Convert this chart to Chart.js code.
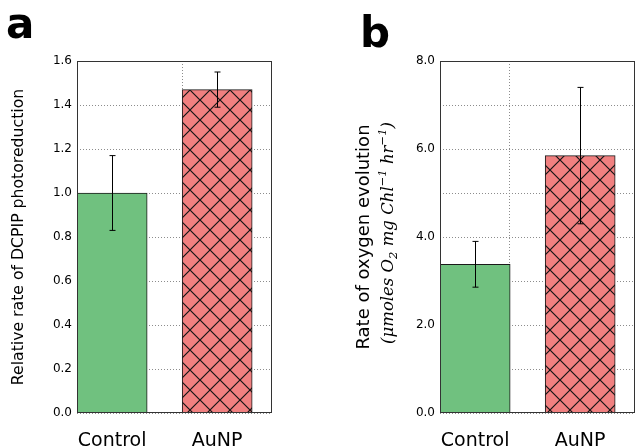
<!DOCTYPE html>
<html>
<head>
<meta charset="utf-8">
<script src="https://cdn.jsdelivr.net/npm/chart.js@4.4.0/dist/chart.umd.min.js"></script>
<style>
  html, body { margin: 0; padding: 0; background: #fff; }
  #wrap { position: relative; width: 635px; height: 447px; overflow: hidden; }
  #boxA { position: absolute; left: 0; top: 0; width: 320px; height: 447px; }
  #boxB { position: absolute; left: 320px; top: 0; width: 315px; height: 447px; }
</style>
</head>
<body>
<div id="wrap">
  <div id="boxA"><canvas id="chartA" width="320" height="447"></canvas></div>
  <div id="boxB"><canvas id="chartB" width="315" height="447"></canvas></div>
</div>
<script>
// data
const categories = ['Control', 'AuNP'];
const dcpipValues = [1.0, 1.47];
const dcpipErrors = [0.17, 0.08];
const oxygenValues = [3.38, 5.85];
const oxygenErrors = [0.52, 1.55];

const GREEN = '#70c17f';
const RED = '#f08080';
const EDGE = '#1a1a1a';
const GRID = '#8c8c8c';

// crosshatch fill for the AuNP bar
function crossHatch() {
  const c = document.createElement('canvas');
  c.width = 20; c.height = 20;
  const g = c.getContext('2d');
  g.fillStyle = RED;
  g.fillRect(0, 0, 20, 20);
  g.strokeStyle = '#141414';
  g.lineWidth = 1.2;
  g.beginPath();
  g.moveTo(-2, -2); g.lineTo(22, 22);
  g.moveTo(22, -2); g.lineTo(-2, 22);
  g.stroke();
  return g.createPattern(c, 'repeat');
}

// small renderer for the rotated math line, with sub/superscripts
function drawMathLine(ctx, x, y, parts, size) {
  ctx.save();
  ctx.translate(x, y);
  ctx.rotate(-Math.PI / 2);
  ctx.fillStyle = '#000';
  ctx.textBaseline = 'alphabetic';
  const fontFor = k => 'italic ' + (k ? size * 0.7 : size) + 'px "DejaVu Serif"';
  let w = 0;
  parts.forEach(p => { ctx.font = fontFor(p[1]); w += ctx.measureText(p[0]).width; });
  let cx = -w / 2;
  const base = size * 0.3;
  parts.forEach(p => {
    ctx.font = fontFor(p[1]);
    let dy = 0;
    if (p[1] === 'sub') dy = size * 0.25;
    if (p[1] === 'sup') dy = -size * 0.42;
    ctx.fillText(p[0], cx, base + dy);
    cx += ctx.measureText(p[0]).width;
  });
  ctx.restore();
}

const decor = {
  id: 'decor',
  afterDatasetsDraw(chart, args, opts) {
    const ctx = chart.ctx;
    const xs = chart.scales.x, ys = chart.scales.y;
    ctx.save();
    ctx.strokeStyle = '#000';
    ctx.lineWidth = 1;
    opts.values.forEach((v, i) => {
      const px = Math.round(xs.getPixelForValue(opts.pos[i])) + 0.5;
      const top = ys.getPixelForValue(v + opts.errors[i]);
      const bot = ys.getPixelForValue(v - opts.errors[i]);
      ctx.beginPath();
      ctx.moveTo(px, top); ctx.lineTo(px, bot);
      ctx.moveTo(px - 3, top); ctx.lineTo(px + 3, top);
      ctx.moveTo(px - 3, bot); ctx.lineTo(px + 3, bot);
      ctx.stroke();
    });
    ctx.restore();
  },
  afterDraw(chart, args, opts) {
    const ctx = chart.ctx;
    const a = chart.chartArea;
    ctx.save();
    ctx.strokeStyle = '#333';
    ctx.lineWidth = 1;
    ctx.strokeRect(Math.round(a.left) + 0.5, Math.round(a.top) + 0.5,
      Math.round(a.right - a.left) - 1, Math.round(a.bottom - a.top) - 1);
    ctx.fillStyle = '#000';
    ctx.font = 'bold 42px "DejaVu Sans"';
    ctx.textBaseline = 'alphabetic';
    ctx.fillText(opts.letter, opts.letterX, opts.letterY);
    ctx.restore();
    if (opts.mathLine) {
      drawMathLine(ctx, opts.mathX, (a.top + a.bottom) / 2 - 4, opts.mathLine, 16.5);
    }
  }
};

function makeChart(id, cfg) {
  const pos = cfg.values.map((v, i) => i + 0.335);
  const tickVals = [pos[0], cfg.gridX, pos[1]].sort((p, q) => p - q);
  return new Chart(document.getElementById(id), {
    type: 'bar',
    data: {
      datasets: [{
        data: cfg.values.map((v, i) => ({ x: pos[i], y: v })),
        backgroundColor: [GREEN, crossHatch()],
        borderColor: EDGE,
        borderWidth: 1,
        barThickness: 70
      }]
    },
    options: {
      responsive: false,
      animation: false,
      devicePixelRatio: 1,
      layout: { padding: { top: 61, right: cfg.padRight, bottom: 0, left: 0 } },
      plugins: {
        legend: { display: false },
        tooltip: { enabled: false },
        decor: {
          values: cfg.values, errors: cfg.errors, pos: pos,
          letter: cfg.letter, letterX: cfg.letterX, letterY: cfg.letterY,
          mathLine: cfg.mathLine, mathX: cfg.mathX
        }
      },
      scales: {
        x: {
          type: 'linear',
          min: 0, max: 1.857,
          offset: false,
          afterBuildTicks: axis => { axis.ticks = tickVals.map(v => ({ value: v })); },
          afterFit: axis => { axis.height = 34; },
          ticks: {
            autoSkip: false, maxRotation: 0, padding: 17,
            font: { family: 'DejaVu Sans', size: 19 }, color: '#000',
            callback: value => {
              const i = pos.indexOf(value);
              return i >= 0 ? categories[i] : '';
            }
          },
          grid: {
            offset: false, drawTicks: false,
            color: c => (c.tick && c.tick.value === cfg.gridX) ? GRID : 'rgba(0,0,0,0)'
          },
          border: { display: false, dash: [1, 2] }
        },
        y: {
          min: 0, max: cfg.max,
          afterFit: axis => { axis.width = cfg.axisWidth; },
          ticks: {
            stepSize: cfg.step, padding: 5,
            font: { family: 'DejaVu Sans', size: 12 }, color: '#000',
            callback: cfg.tickFmt
          },
          grid: { drawTicks: false, color: GRID },
          border: { display: false, dash: [1, 2] },
          title: {
            display: true, text: cfg.title, color: '#000',
            font: { family: 'DejaVu Sans', size: cfg.titleSize },
            padding: { top: cfg.titlePad, bottom: 0 }
          }
        }
      }
    },
    plugins: [decor]
  });
}

makeChart('chartA', {
  values: dcpipValues, errors: dcpipErrors,
  max: 1.6, step: 0.2, tickFmt: v => v.toFixed(1),
  axisWidth: 77, padRight: 48, gridX: 1.0,
  title: 'Relative rate of DCPIP photoreduction', titleSize: 15.7, titlePad: 10,
  letter: 'a', letterX: 6, letterY: 38
});

makeChart('chartB', {
  values: oxygenValues, errors: oxygenErrors,
  max: 8, step: 1, tickFmt: v => (Math.round(v) % 2 === 0 ? v.toFixed(1) : ''),
  axisWidth: 120, padRight: 0, gridX: 0.665,
  title: 'Rate of oxygen evolution', titleSize: 18, titlePad: 34,
  letter: 'b', letterX: 40, letterY: 47,
  mathX: 68,
  mathLine: [['(μmoles O', ''], ['2', 'sub'], [' mg Chl', ''], ['−1', 'sup'],
             [' hr', ''], ['−1', 'sup'], [')', '']]
});
</script>
</body>
</html>
